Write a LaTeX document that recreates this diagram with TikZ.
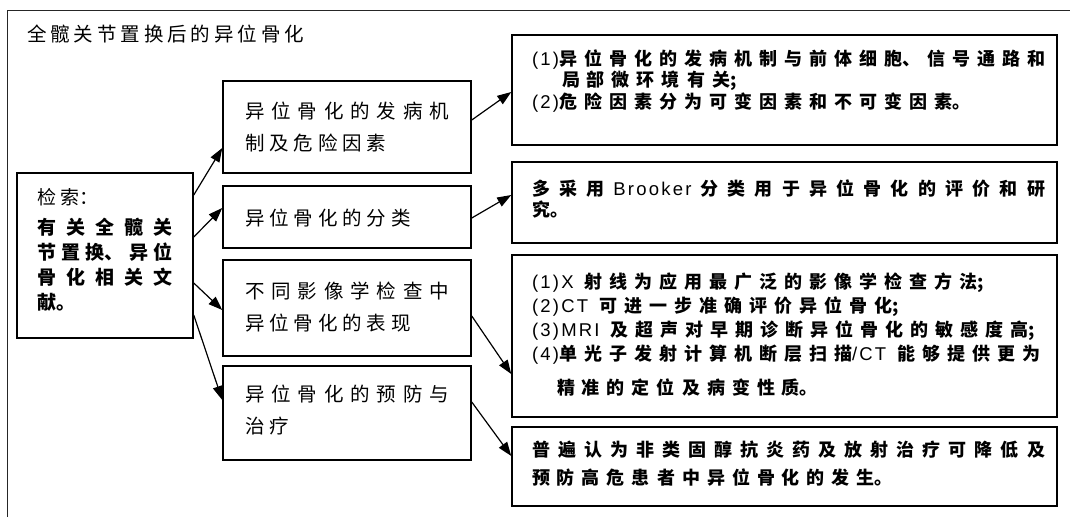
\documentclass[tikz,border=0pt]{standalone}
\usepackage{fontspec}
\setmainfont{Noto Sans CJK SC}
\newfontfamily\cjkf{Noto Sans CJK SC}
\newfontfamily\titlef{Noto Sans CJK SC}[LetterSpace=20]
\newfontfamily\latf{Liberation Sans}[LetterSpace=12]
\newcommand\lsf[1]{{\latf\mdseries\fontsize{18.5}{18.5}\selectfont #1}}
\XeTeXlinebreaklocale "zh"
\XeTeXlinebreakskip=0pt plus 10pt minus 1pt
\usetikzlibrary{arrows.meta,calc}
\newcommand\cjkgap[1]{\XeTeXlinebreakskip=#1 plus 10pt minus 1pt\relax}
\tikzset{
  box/.style={draw, line width=1.5pt, inner sep=0pt},
  txt/.style={inner sep=0pt, outer sep=0pt, align=justify},
  midtxt/.style={txt, anchor=west, text width=204pt, font=\cjkf\fontsize{19.5}{32.5}\selectfont\cjkgap{4.9pt}},
  rtxt/.style={txt, anchor=base west, text width=513pt},
  arr/.style={line width=1.2pt, -{Triangle[length=14pt,width=10pt]}},
}
\begin{document}
\begin{tikzpicture}[x=1pt, y=-1pt]
\useasboundingbox (0,0) rectangle (1070,517);
% outer frame
\draw[line width=1pt, black!85] (7,517) -- (7,10) -- (1070,10);
\node[inner sep=0pt, anchor=west, font=\titlef\fontsize{19.5}{24}\selectfont] (T) at (27,34) {全髋关节置换后的异位骨化};

% boxes
\node[box, minimum width=176pt, minimum height=165pt] (L) at (105,255.5) {};
\node[box, minimum width=248pt, minimum height=92pt] (M1) at (347,127) {};
\node[box, minimum width=248pt, minimum height=62pt] (M2) at (347,217) {};
\node[box, minimum width=248pt, minimum height=96pt] (M3) at (347,308) {};
\node[box, minimum width=248pt, minimum height=94pt] (M4) at (347,413) {};
\node[box, minimum width=545pt, minimum height=110pt] (R1) at (784.5,90) {};
\node[box, minimum width=545pt, minimum height=81pt] (R2) at (784.5,202.5) {};
\node[box, minimum width=545pt, minimum height=162pt] (R3) at (784.5,336) {};
\node[box, minimum width=545pt, minimum height=79pt] (R4) at (784.5,466.5) {};

% texts
\node[txt, anchor=base west, text width=136pt, font=\cjkf\fontsize{19}{25}\selectfont\cjkgap{4.4pt}] (Lt) at (37,204)
  {检索：\\[5pt]\bfseries 有关全髋关\linebreak 节置换、异位\linebreak 骨化相关文\linebreak 献。};
\node[midtxt] (M1t) at (245,127) {异位骨化的发病机\linebreak 制及危险因素};
\node[midtxt] (M2t) at (245,218) {异位骨化的分类};
\node[midtxt] (M3t) at (245,307) {不同影像学检查中\linebreak 异位骨化的表现};
\node[midtxt] (M4t) at (245,410) {异位骨化的预防与\linebreak 治疗};

\node[rtxt, font=\cjkf\bfseries\fontsize{18}{21.5}\selectfont\cjkgap{7pt}] (R1t) at (532,65)
  {\lsf{(1)}异位骨化的发病机制与前体细胞、信号通路和\linebreak\hspace*{30pt}局部微环境有关;\\\lsf{(2)}危险因素分为可变因素和不可变因素。};
\node[rtxt, font=\cjkf\bfseries\fontsize{18}{21}\selectfont\cjkgap{7pt}] (R2t) at (532,195)
  {多采用\hspace*{9pt}\lsf{Brooker}\hspace*{9pt}分类用于异位骨化的评价和研\linebreak 究。};
\node[rtxt, font=\cjkf\bfseries\fontsize{18}{24}\selectfont\cjkgap{7pt}] (R3t) at (532,288)
  {\lsf{(1)X}\hspace*{11pt}射线为应用最广泛的影像学检查方法;\\
   \lsf{(2)CT}\hspace*{11pt}可进一步准确评价异位骨化;\\
   \lsf{(3)MRI}\hspace*{11pt}及超声对早期诊断异位骨化的敏感度高;\\
   \lsf{(4)}单光子发射计算机断层扫描\mbox{\lsf{/CT}}\hspace*{11pt}能够提供更为\\[10pt]
   \hspace*{25pt}精准的定位及病变性质。};
\node[rtxt, font=\cjkf\bfseries\fontsize{18}{28}\selectfont\cjkgap{7pt}] (R4t) at (532,456)
  {普遍认为非类固醇抗炎药及放射治疗可降低及\linebreak 预防高危患者中异位骨化的发生。};

% connectors
\draw[arr] ([yshift=60.5pt]L.east) -- ([yshift=-21pt]M1.west);
\draw[arr] ([yshift=18.5pt]L.east) -- ([yshift=9pt]M2.west);
\draw[arr] ([yshift=-27.5pt]L.east) -- ([yshift=-2pt]M3.west);
\draw[arr] ([yshift=-59.5pt]L.east) -- ([yshift=13pt]M4.west);
\draw[arr] ([yshift=7pt]M1.east) -- ([yshift=-2pt]R1.west);
\draw[arr] ([yshift=-1pt]M2.east) -- ([yshift=7.5pt]R2.west);
\draw[arr] ([yshift=-8pt]M3.east) -- ([yshift=-38pt]R3.west);
\draw[arr] ([yshift=11pt]M4.east) -- ([yshift=10.5pt]R4.west);
\end{tikzpicture}
\end{document}
